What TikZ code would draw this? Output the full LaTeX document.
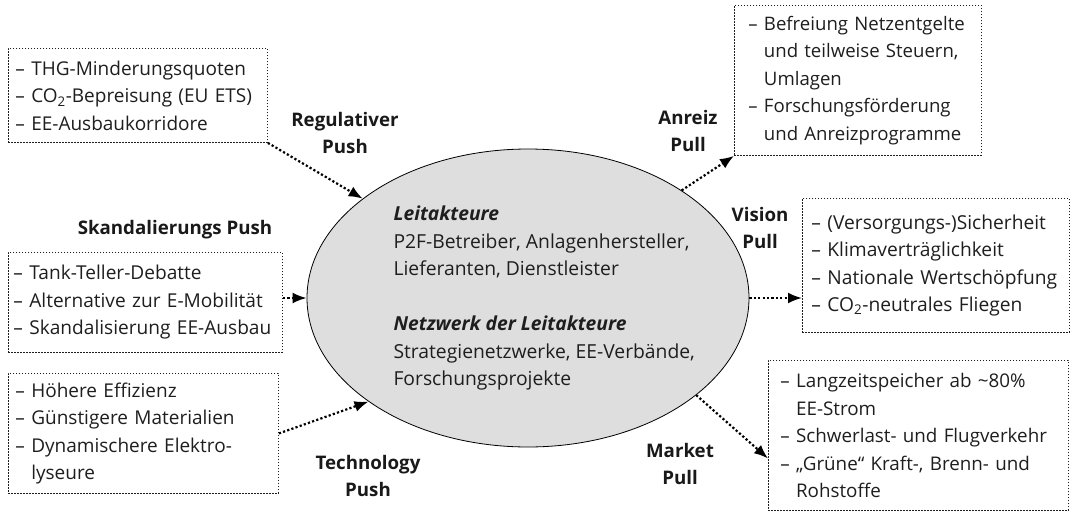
\documentclass[tikz,border=0pt]{standalone}
\usepackage{fontspec}
\setmainfont{Open Sans}
\usetikzlibrary{arrows.meta,positioning,shapes.geometric}
\definecolor{ellgray}{RGB}{222,222,222}
\definecolor{inkgray}{RGB}{30,30,30}
\newcommand{\hang}{\phantom{– }}
\newcommand{\sizedfont}[1]{\fontsize{#1}{27.5}\selectfont}
\tikzstyle{factor}=[
	draw=inkgray,
	line width=0.9pt,
	dash pattern=on 1.2pt off 1.8pt,
	align=left,
	anchor=north west,
	inner ysep=0pt,
	text=inkgray
]
\tikzstyle{force}=[
	align=center,
	text=black!90,
	font=\bfseries\fontsize{18.7}{27}\selectfont
]
\tikzstyle{impulse}=[
	-{Latex[length=14pt,width=11pt]},
	line width=2.2pt,
	dash pattern=on 2.2pt off 2.2pt
]

\begin{document}
\begin{tikzpicture}[x=1pt,y=-1pt]
\useasboundingbox (0,0) rectangle (1078,511);
\node [ellipse, draw, fill=ellgray, line width=0.8pt, minimum width=442pt, minimum height=298pt] (Core) at (528,298) {};
\node [anchor=west, align=left, text=inkgray, font=\sizedfont{19.3}] (CoreText) at (390,298)
	{\textbf{\textit{Leitakteure}}\\P2F-Betreiber, Anlagenhersteller,\\Lieferanten, Dienstleister\\[27.5pt]
	\textbf{\textit{Netzwerk der Leitakteure}}\\Strategienetzwerke, EE-Verbände,\\Forschungsprojekte};
\node [factor, font=\sizedfont{19}, text width=245pt, minimum height=94pt, inner xsep=7pt] (Regulation) at (8,48)
	{– THG-Minderungsquoten\\– CO\textsubscript{2}-Bepreisung (EU ETS)\\– EE-Ausbaukorridore};
\node [factor, font=\sizedfont{19.1}, text width=264pt, minimum height=100pt, inner xsep=5pt] (Scandal) at (8,252)
	{– Tank-Teller-Debatte\\– Alternative zur E-Mobilität\\– Skandalisierung EE-Ausbau};
\node [factor, font=\sizedfont{19}, text width=256pt, minimum height=120pt, inner xsep=7pt] (Technology) at (8,373)
	{– Höhere Effizienz\\– Günstigere Materialien\\– Dynamischere Elektro-\\\hang lyseure};
\node [factor, font=\sizedfont{18.6}, text width=219pt, minimum height=150pt, inner xsep=14pt] (Incentive) at (734,5)
	{– Befreiung Netzentgelte\\\hang und teilweise Steuern,\\\hang Umlagen\\– Forschungsförderung\\\hang und Anreizprogramme};
\node [factor, font=\sizedfont{19.2}, text width=249pt, minimum height=134pt, inner xsep=9pt] (Vision) at (802,198)
	{– (Versorgungs-)Sicherheit\\– Klimaverträglichkeit\\– Nationale Wertschöpfung\\– CO\textsubscript{2}-neutrales Fliegen};
\node [factor, font=\sizedfont{18.8}, text width=276pt, minimum height=150pt, inner xsep=12pt] (Market) at (768,360)
	{– Langzeitspeicher ab \textasciitilde80\%\\\hang EE-Strom\\– Schwerlast- und Flugverkehr\\– „Grüne“ Kraft-, Brenn- und\\\hang Rohstoffe};
\node [force] (RegulationLabel) at (345,133) {Regulativer\\Push};
\node [force] (ScandalLabel) at (175,230) {Skandalierungs Push};
\node [force] (TechnologyLabel) at (368,476) {Technology\\Push};
\node [force] (IncentiveLabel) at (688,131) {Anreiz\\Pull};
\node [force] (VisionLabel) at (760,228) {Vision\\Pull};
\node [force] (MarketLabel) at (680,464) {Market\\Pull};
\draw [impulse] (Regulation.south east) -- (Core.149.5);
\draw [impulse] (Scandal.east |- Core.west) -- (Core.west);
\draw [impulse] (Technology.east) -- (Core.213);
\draw [impulse] (Core.35) -- (Incentive.south west);
\draw [impulse] (Core.east) -- (Vision.west |- Core.east);
\draw [impulse] (Core.-30) -- ([yshift=-23pt]Market.west);
\end{tikzpicture}
\end{document}
